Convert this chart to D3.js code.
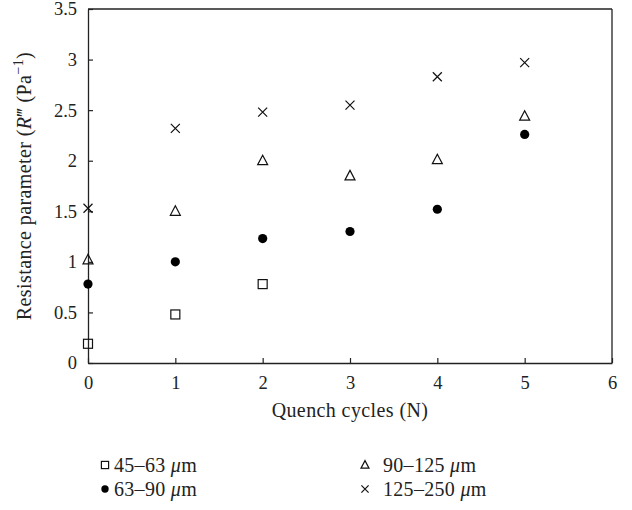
<!doctype html>
<html>
  <head>
    <meta charset="utf-8"/>
    <title>Resistance parameter vs quench cycles</title>
    <style>
      body, html {
        margin: 0;
        padding: 0;
        background: #fff;
      }
      svg text {
        font-family: "Liberation Serif", "DejaVu Serif", serif;
        fill: #222;
      }
    </style>
    <script src="https://d3js.org/d3.v7.min.js"></script>
  </head>
  <body>
    <svg id="chart" width="632" height="510"></svg>
    <script>
      // cycles on the x axis
      var cycles = [0, 1, 2, 3, 4, 5];

      // resistance parameter R''' per particle size range
      var size45to63 = [0.19, 0.48, 0.78];
      var size63to90 = [0.78, 1.0, 1.23, 1.3, 1.52, 2.26];
      var size90to125 = [1.02, 1.5, 2.0, 1.85, 2.01, 2.44];
      var size125to250 = [1.53, 2.32, 2.48, 2.55, 2.83, 2.97];

      var xTicks = [0, 1, 2, 3, 4, 5, 6];
      var yTicks = [0, 0.5, 1, 1.5, 2, 2.5, 3, 3.5];

      var series = [
        { label: "45–63", values: size45to63, symbol: "square" },
        { label: "63–90", values: size63to90, symbol: "circle" },
        { label: "90–125", values: size90to125, symbol: "triangle" },
        { label: "125–250", values: size125to250, symbol: "cross" }
      ];

      var margin = { left: 88, top: 9, right: 20, bottom: 147 };
      var width = 632 - margin.left - margin.right,
          height = 510 - margin.top - margin.bottom;

      var svg = d3.select("#chart");
      var g = svg.append("g")
        .attr("transform", "translate(" + margin.left + "," + margin.top + ")");

      var x = d3.scaleLinear().domain([0, 6]).range([0, width]);
      var y = d3.scaleLinear().domain([0, 3.5]).range([height, 0]);

      var fmt = function(d) { return String(d); };

      var xAxis = g.append("g")
        .attr("transform", "translate(0," + height + ")")
        .call(d3.axisBottom(x).tickValues(xTicks).tickFormat(fmt)
          .tickSizeInner(-5).tickSizeOuter(0).tickPadding(13));

      var yAxis = g.append("g")
        .call(d3.axisLeft(y).tickValues(yTicks).tickFormat(fmt)
          .tickSizeInner(-5).tickSizeOuter(0).tickPadding(11));

      [xAxis, yAxis].forEach(function(a) {
        a.select(".domain").attr("stroke", "#222").attr("stroke-width", 1.3);
        a.selectAll(".tick line").attr("stroke", "#222").attr("stroke-width", 1.2);
        a.selectAll(".tick text")
          .style("font-family", "'Liberation Serif', serif")
          .style("font-size", "18.5px")
          .attr("fill", "#222");
      });

      // top and right frame lines
      g.append("line").attr("x1", 0).attr("x2", width).attr("y1", 0).attr("y2", 0)
        .attr("stroke", "#222").attr("stroke-width", 1.3);
      g.append("line").attr("x1", width).attr("x2", width).attr("y1", 0).attr("y2", height)
        .attr("stroke", "#222").attr("stroke-width", 1.3);

      function drawSymbol(sel, type, s) {
        if (type === "square") {
          sel.append("rect").attr("x", -4.5 * s).attr("y", -4.5 * s)
            .attr("width", 9 * s).attr("height", 9 * s)
            .attr("fill", "none").attr("stroke", "#111").attr("stroke-width", 1.2);
        } else if (type === "circle") {
          sel.append("circle").attr("r", 4.6 * s).attr("fill", "#000");
        } else if (type === "triangle") {
          sel.append("path")
            .attr("d", "M0," + (-5.5 * s) + "L" + (5 * s) + "," + (4 * s) + "L" + (-5 * s) + "," + (4 * s) + "Z")
            .attr("fill", "none").attr("stroke", "#111").attr("stroke-width", 1.2);
        } else {
          var c = 4.5 * s;
          sel.append("path")
            .attr("d", "M" + (-c) + "," + (-c) + "L" + c + "," + c + "M" + c + "," + (-c) + "L" + (-c) + "," + c)
            .attr("fill", "none").attr("stroke", "#111").attr("stroke-width", 1.2);
        }
      }

      series.forEach(function(s) {
        g.selectAll(null)
          .data(s.values)
          .enter().append("g")
            .attr("transform", function(d, i) { return "translate(" + x(cycles[i]) + "," + y(d) + ")"; })
            .each(function() { drawSymbol(d3.select(this), s.symbol, 1); });
      });

      // axis titles
      svg.append("text")
        .attr("x", margin.left + width / 2)
        .attr("y", 417)
        .attr("text-anchor", "middle")
        .style("font-size", "20px")
        .style("letter-spacing", "0.4px")
        .text("Quench cycles (N)");

      var yt = svg.append("text")
        .attr("transform", "translate(31," + (margin.top + height / 2) + ") rotate(-90)")
        .attr("text-anchor", "middle")
        .style("font-size", "20px")
        .style("letter-spacing", "0.4px");
      yt.append("tspan").text("Resistance parameter (");
      yt.append("tspan").style("font-style", "italic").text("R");
      yt.append("tspan").text("‴  (Pa");
      yt.append("tspan").attr("dy", -8).style("font-size", "14px").text("−1");
      yt.append("tspan").attr("dy", 8).text(")");

      // legend
      var legendPos = [[105, 465, 9], [105, 489, 9], [365, 465, 18], [365, 489, 18]];
      series.forEach(function(s, i) {
        var lg = svg.append("g")
          .attr("transform", "translate(" + legendPos[i][0] + "," + legendPos[i][1] + ")");
        drawSymbol(lg, s.symbol, 0.8);
        var t = lg.append("text").attr("x", legendPos[i][2]).attr("y", 6.5)
          .style("font-size", "20px").style("letter-spacing", "0.3px");
        t.append("tspan").text(s.label + " ");
        t.append("tspan").style("font-style", "italic").text("μ");
        t.append("tspan").text("m");
      });
    </script>
  </body>
</html>
